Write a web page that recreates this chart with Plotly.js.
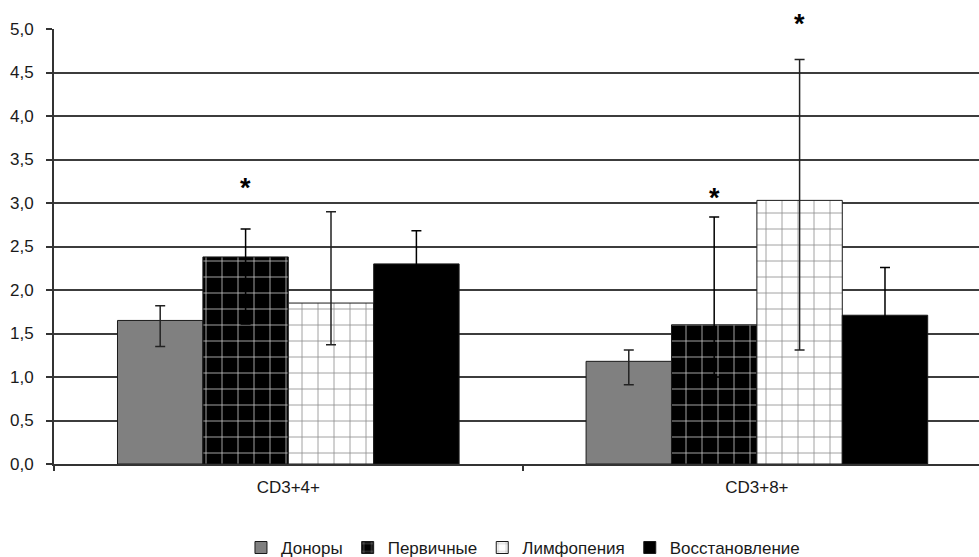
<!DOCTYPE html>
<html>
<head>
<meta charset="utf-8">
<script src="https://cdn.plot.ly/plotly-3.0.1.min.js"></script>
<style>
  html, body { margin: 0; padding: 0; background: #ffffff; }
  #chart { width: 979px; height: 557px; }
</style>
</head>
<body>
<div id="chart"></div>
<script>
// Lymphocyte subset ratios by patient group (median with spread)
const categories = ['CD3+4+', 'CD3+8+'];

const seriesNames = ['Доноры', 'Первичные', 'Лимфопения', 'Восстановление'];

const donors      = [1.65, 1.18];
const primary     = [2.38, 1.60];
const lymphopenia = [1.85, 3.03];
const recovery    = [2.30, 1.71];

// upper / lower spread of each bar
const donorsUp        = [0.17, 0.13];
const donorsDown      = [0.30, 0.27];
const primaryUp       = [0.32, 1.24];
const primaryDown     = [0.77, 0.60];
const lymphopeniaUp   = [1.05, 1.62];
const lymphopeniaDown = [0.48, 1.72];
const recoveryUp      = [0.38, 0.55];
const recoveryDown    = [0.38, 0.55];

// significance markers: category index, series index, height on the value axis
const markCategory = [0, 1, 1];
const markSeries   = [1, 1, 2];
const markY        = [3.22, 3.10, 5.10];

const yTickVals = [0, 0.5, 1, 1.5, 2, 2.5, 3, 3.5, 4, 4.5, 5];
const yTickText = ['0,0', '0,5', '1,0', '1,5', '2,0', '2,5', '3,0', '3,5', '4,0', '4,5', '5,0'];

const Y_RANGE = [0, 5];
const FONT = '"Liberation Sans", Arial, sans-serif';
const INK = '#1a1a1a';
const BARGAP = 0.271;

const values = [donors, primary, lymphopenia, recovery];
const ups    = [donorsUp, primaryUp, lymphopeniaUp, recoveryUp];
const downs  = [donorsDown, primaryDown, lymphopeniaDown, recoveryDown];
const whiskerColors = ['#222222', '#000000', '#222222', '#000000'];

const markers = [
  { color: '#808080', line: { color: INK, width: 1 } },
  { color: '#000000', line: { color: INK, width: 1 },
    pattern: { shape: '+', bgcolor: '#000000', fgcolor: '#c4c4c4', size: 16, solidity: 0.1 } },
  { color: '#ffffff', line: { color: INK, width: 1 },
    pattern: { shape: '+', bgcolor: '#ffffff', fgcolor: '#8c8c8c', size: 16, solidity: 0.1 } },
  { color: '#000000', line: { color: INK, width: 1 } }
];

const traces = seriesNames.map((name, i) => ({
  type: 'bar',
  name: name,
  x: categories,
  y: values[i],
  marker: markers[i],
  error_y: {
    type: 'data',
    symmetric: false,
    array: ups[i],
    arrayminus: downs[i],
    color: whiskerColors[i],
    thickness: 1.5,
    width: 5
  },
  hoverinfo: 'skip'
}));

// asterisks sit over the centre of their bar; paper units keep the top one visible above the frame
const slot = (1 - BARGAP) / seriesNames.length;
const annotations = markCategory.map((c, k) => ({
  xref: 'x', yref: 'paper',
  x: c + (markSeries[k] - (seriesNames.length - 1) / 2) * slot,
  y: (markY[k] - Y_RANGE[0]) / (Y_RANGE[1] - Y_RANGE[0]),
  yshift: -4,
  text: '<b>*</b>',
  showarrow: false,
  xanchor: 'center', yanchor: 'middle',
  font: { family: FONT, size: 27, color: '#000000' }
}));

const layout = {
  width: 979,
  height: 557,
  margin: { l: 54, r: 0, t: 29, b: 93, autoexpand: false },
  paper_bgcolor: '#ffffff',
  plot_bgcolor: '#ffffff',
  barmode: 'group',
  bargap: BARGAP,
  bargroupgap: 0,
  font: { family: FONT, size: 17, color: INK },
  xaxis: {
    type: 'category',
    range: [-0.5, 1.474],
    showgrid: false,
    showline: true,
    linecolor: '#333333',
    linewidth: 2,
    ticks: 'outside',
    tickson: 'boundaries',
    ticklen: 5,
    tickcolor: '#333333',
    tickwidth: 2,
    ticklabelstandoff: 7,
    tickfont: { family: FONT, size: 17, color: INK },
    zeroline: false
  },
  yaxis: {
    range: Y_RANGE,
    tickvals: yTickVals,
    ticktext: yTickText,
    showgrid: true,
    gridcolor: '#3c3c3c',
    gridwidth: 2,
    showline: true,
    linecolor: '#333333',
    linewidth: 2,
    ticks: 'outside',
    ticklen: 6,
    tickcolor: '#333333',
    tickwidth: 2,
    ticklabelstandoff: 9,
    tickfont: { family: FONT, size: 17, color: INK },
    zeroline: false
  },
  showlegend: true,
  legend: {
    orientation: 'h',
    x: 0.507,
    xanchor: 'center',
    y: -0.193,
    yanchor: 'middle',
    itemwidth: 30,
    font: { family: FONT, size: 17, color: INK },
    bgcolor: 'rgba(0,0,0,0)'
  },
  annotations: annotations
};

Plotly.newPlot('chart', traces, layout, { displayModeBar: false, staticPlot: true });
</script>
</body>
</html>
